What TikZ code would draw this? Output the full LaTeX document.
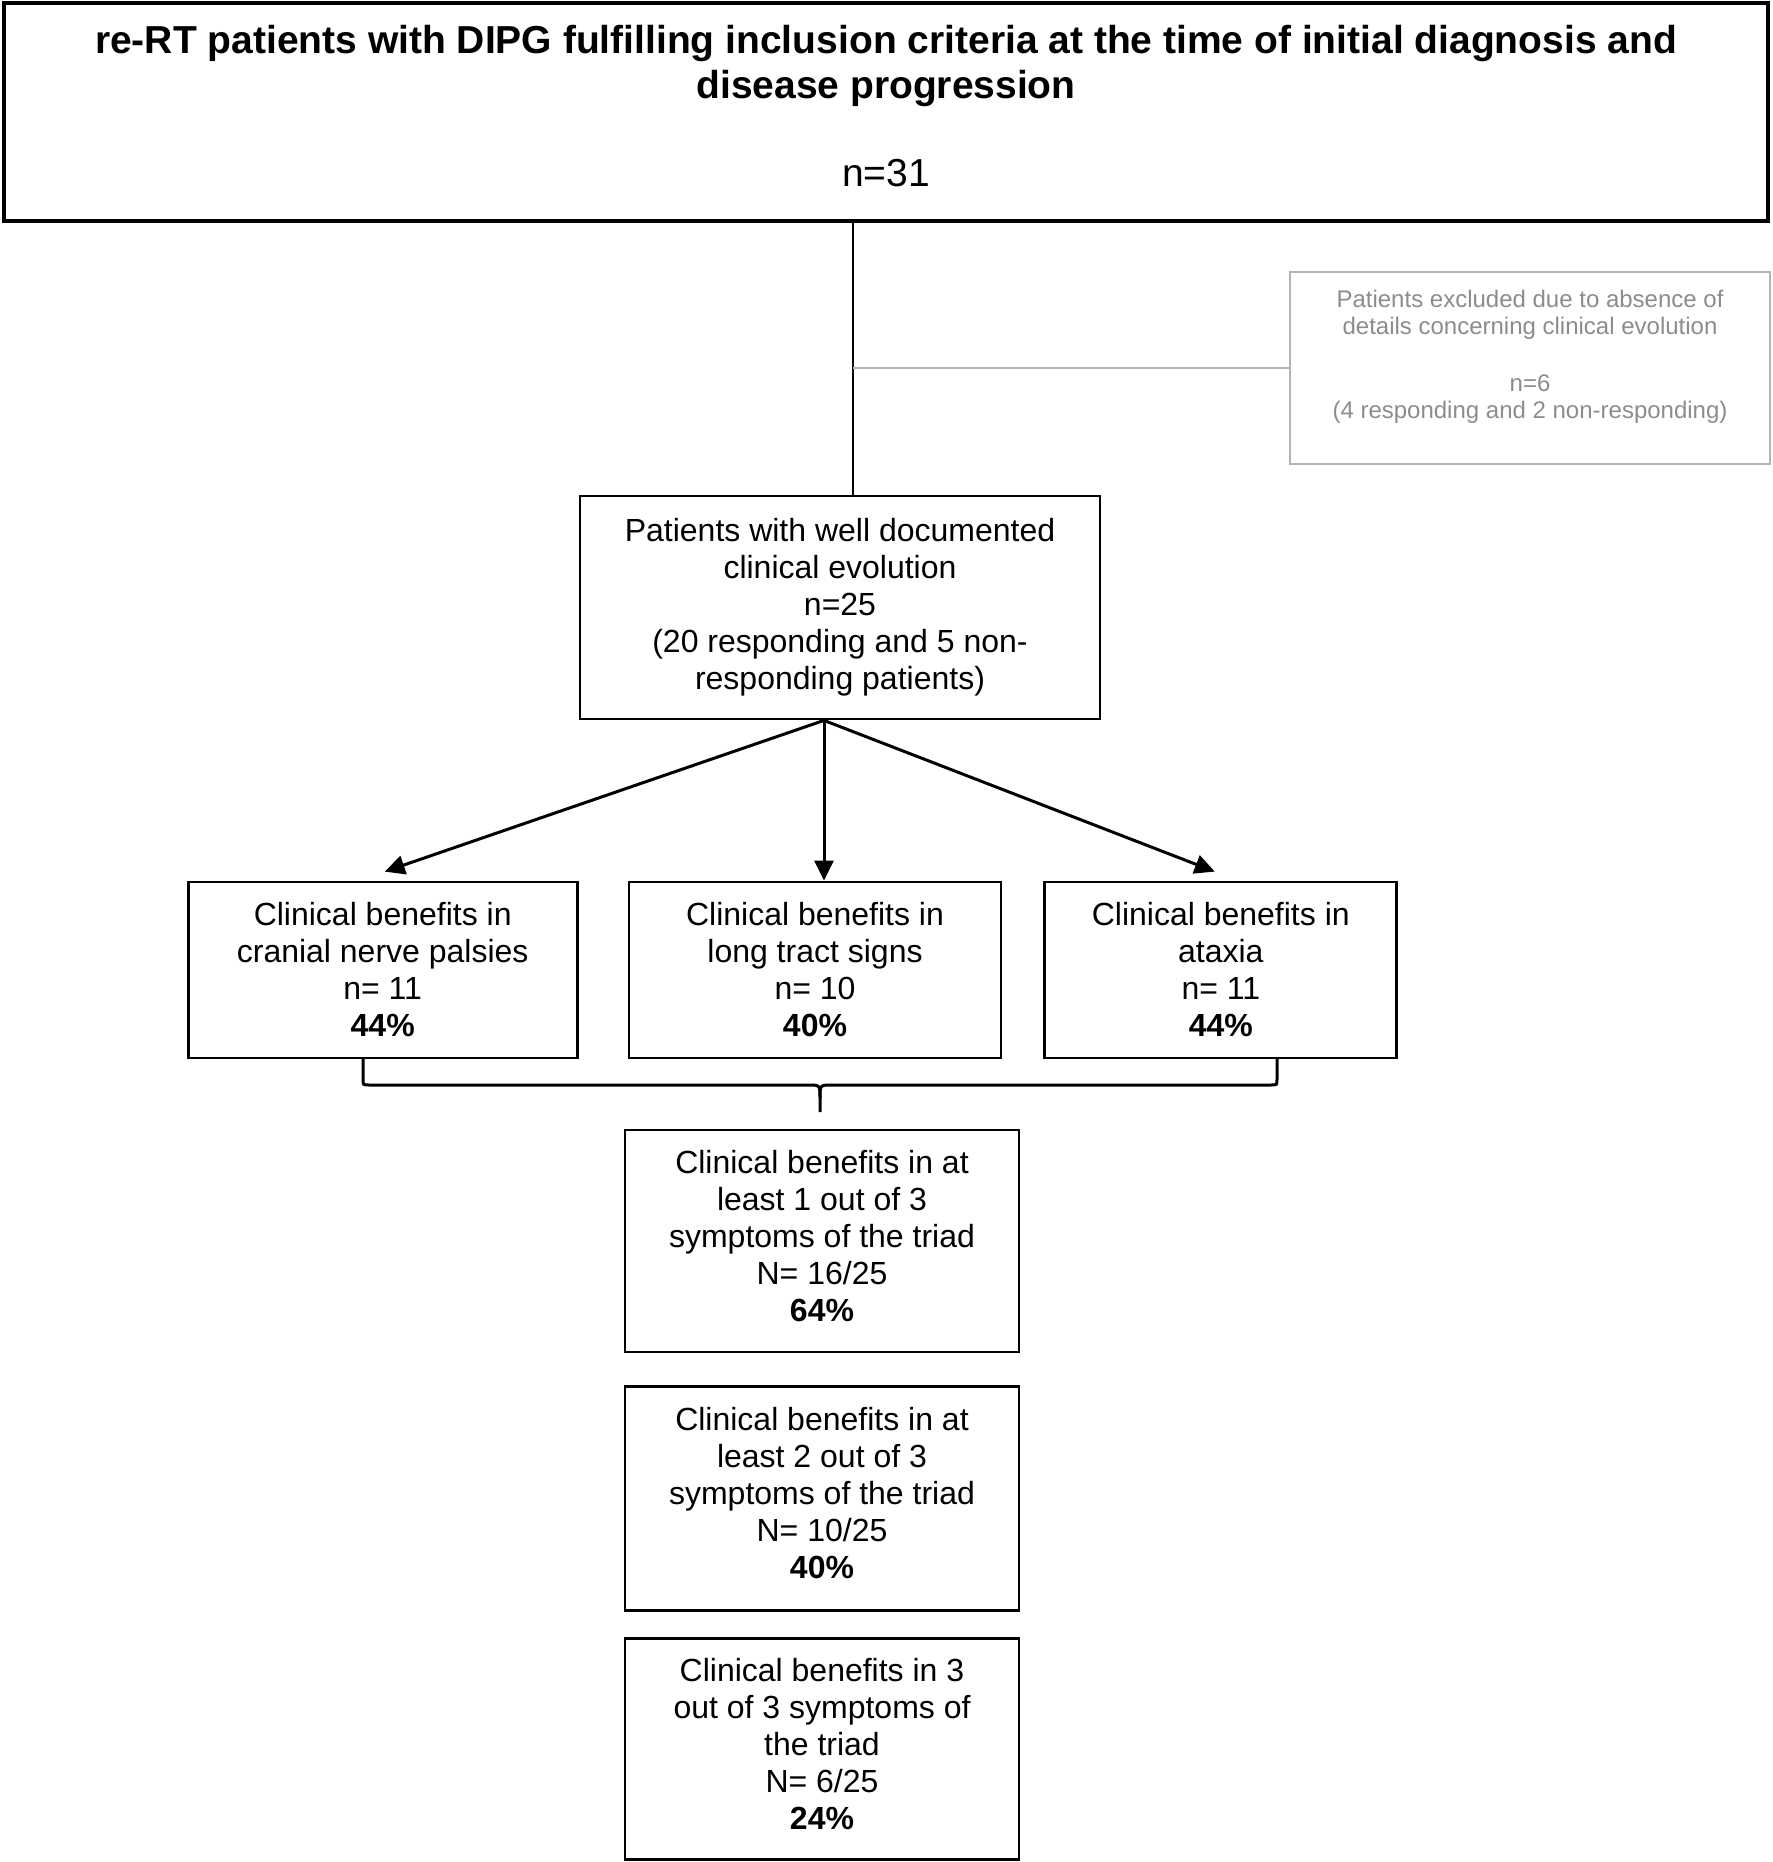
\documentclass[tikz,border=0pt]{standalone}
\usepackage{fontspec}
\setmainfont{Liberation Sans}
\usetikzlibrary{arrows.meta,positioning,calc}
\definecolor{excltext}{HTML}{8C8C8C}
\definecolor{excldraw}{HTML}{B4B4B4}
\tikzset{
  % Define standard arrow tip
  >={Triangle[length=10pt,width=9.5pt]},
  % Define style for boxes
  box/.style={
    rectangle,
    draw=black, line width=1.4pt,
    align=center,
    inner sep=2pt,
    font=\fontsize{16}{18.5}\selectfont},
  % Define style for the grey box
  greybox/.style={
    rectangle,
    draw=excldraw, line width=1pt,
    text=excltext,
    align=center,
    minimum width=240pt, minimum height=96pt,
    font=\fontsize{12}{13.5}\selectfont},
  % Define arrow style
  arrow/.style={
    ->,
    line width=1.5pt},
  % line
  line/.style={draw, line width=1.3pt},
}
\begin{document}
\begin{tikzpicture}[x=1pt, y=1pt]
  \useasboundingbox (0,0) rectangle (886,-931);
  % nodes
  \node[box, line width=2pt, minimum width=882pt, minimum height=109pt,
    font=\fontsize{19.5}{22.5}\selectfont] (incl) at (443,-56)
    {\bfseries re-RT patients with DIPG fulfilling inclusion criteria at the time of initial diagnosis and\\
     \bfseries disease progression\\[21.5pt] n=31\\[-16.5pt] \mbox{}};
  \node[greybox] (excl) at (765,-184)
    {Patients excluded due to absence of\\ details concerning clinical evolution\\[15pt]
     n=6\\ (4 responding and 2 non-responding)\\ \mbox{}};
  \node[box, minimum width=260pt, minimum height=111.5pt] (docu) at (420,-303.75)
    {Patients with well documented\\ clinical evolution\\ n=25\\ (20 responding and 5 non-\\ responding patients)};
  \node[box, minimum width=186pt, minimum height=88pt] (lts) at (407.5,-485)
    {Clinical benefits in\\ long tract signs\\ n= 10\\ \textbf{40\%}};
  \node[box, minimum width=194.5pt, minimum height=88pt, left=24.5pt of lts] (cnp)
    {Clinical benefits in\\ cranial nerve palsies\\ n= 11\\ \textbf{44\%}};
  \node[box, minimum width=176pt, minimum height=88pt, right=20.5pt of lts] (atx)
    {Clinical benefits in\\ ataxia\\ n= 11\\ \textbf{44\%}};
  \node[box, minimum width=197pt, minimum height=111pt] (one) at (411,-620.5)
    {Clinical benefits in at\\ least 1 out of 3\\ symptoms of the triad\\ N= 16/25\\ \textbf{64\%}\\[-13pt] \mbox{}};
  \node[box, minimum width=197pt, minimum height=112pt, below=16pt of one] (two)
    {Clinical benefits in at\\ least 2 out of 3\\ symptoms of the triad\\ N= 10/25\\ \textbf{40\%}\\[-13pt] \mbox{}};
  \node[box, minimum width=197pt, minimum height=110.5pt, below=12.5pt of two] (three)
    {Clinical benefits in 3\\ out of 3 symptoms of\\ the triad\\ N= 6/25\\ \textbf{24\%}\\[-13pt] \mbox{}};
  % connectors
  \coordinate (trunk) at ($(incl.south)+(-16.5,0)$);
  \path[line] (trunk) -- (trunk |- docu.north);
  \draw[excldraw, line width=1pt] (trunk |- excl.west) -- (excl.west);
  \coordinate (fork) at ($(docu.south)+(-8,0)$);
  \draw[arrow] (fork) -- ($(cnp.north)+(1,4.5)$);
  \draw[arrow] (fork) -- (fork |- lts.north);
  \draw[arrow] (fork) -- ($(atx.north)+(-3,4.5)$);
  % brace
  \coordinate (bl) at (181.5,-529.5);
  \coordinate (br) at (638.5,-529.5);
  \coordinate (tip) at (410,-556);
  \draw[line width=1.5pt] (bl) -- ($(bl)+(0,-10)$) .. controls ($(bl)+(0,-13)$) .. ($(bl)+(3,-13)$)
    -- (404,-542.5) .. controls (410,-542.5) .. (410,-549) -- (tip);
  \draw[line width=1.5pt] (br) -- ($(br)+(0,-10)$) .. controls ($(br)+(0,-13)$) .. ($(br)+(-3,-13)$)
    -- (416,-542.5) .. controls (410,-542.5) .. (410,-549);
\end{tikzpicture}
\end{document}
